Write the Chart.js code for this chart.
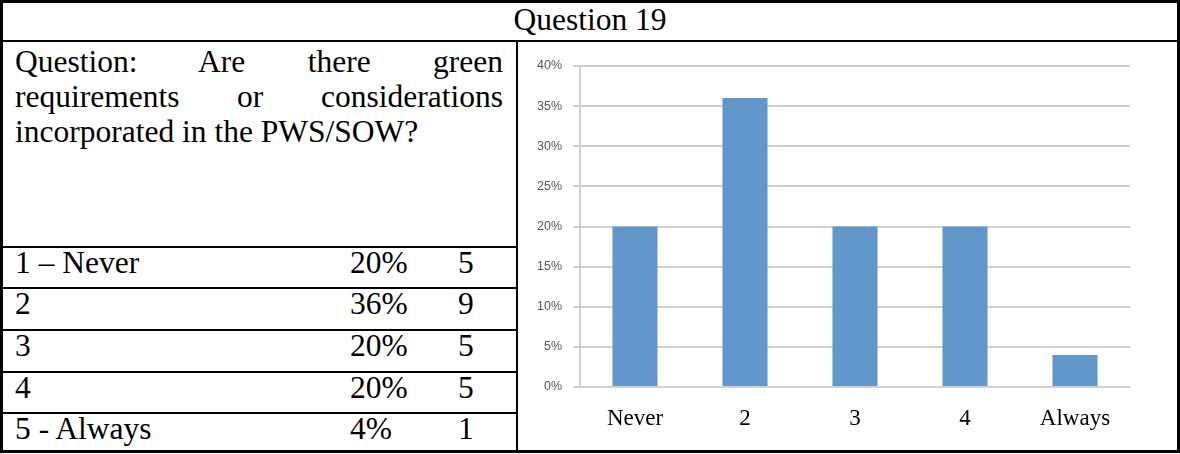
<!DOCTYPE html>
<html>
<head>
<meta charset="utf-8">
<script src="https://cdn.jsdelivr.net/npm/chart.js@4"></script>
<style>
  html, body { margin: 0; padding: 0; background: #fff; }
  body { width: 1180px; height: 454px; position: relative; overflow: hidden;
         font-family: "Liberation Serif", "Times New Roman", serif; font-size: 31.5px; color: #000; }
  .caixa { position: absolute; left: 0; top: 0; width: 1180px; height: 453px;
           border: 3px solid #000; box-sizing: border-box; }
  .linha-h { position: absolute; height: 2px; background: #000; }
  .linha-v { position: absolute; width: 2px; background: #000; }
  .titulo { position: absolute; left: 0; top: 2px; width: 1180px; text-align: center; line-height: 35px; }
  .pergunta { position: absolute; left: 15px; top: 44px; width: 488px; }
  .pergunta div { line-height: 35px; white-space: nowrap; }
  .pergunta .just { text-align: justify; text-align-last: justify; white-space: normal; }
  .linha { position: absolute; left: 0; width: 516px; line-height: 29px; }
  .linha span { position: absolute; top: 0; white-space: nowrap; }
  #area-grafico { position: absolute; left: 518px; top: 42px; width: 659px; height: 407px; }
</style>
</head>
<body>
<div class="caixa"></div>
<div class="titulo" id="titulo"></div>
<div class="linha-h" style="left:0; top:40px; width:1180px;"></div>
<div class="linha-v" style="left:516px; top:40px; height:412px;"></div>
<div class="pergunta" id="pergunta"></div>
<div id="tabela"></div>
<div id="area-grafico"><canvas id="meuGrafico"></canvas></div>

<script>
// ----------------------------- dados -----------------------------
const titulo = "Question 19";
const linhasPergunta = ["Question: Are there green", "requirements or considerations", "incorporated in the PWS/SOW?"];
const rotulosTabela = ["1 \u2013 Never", "2", "3", "4", "5 - Always"];
const categorias = ["Never", "2", "3", "4", "Always"];
const percentuais = [20, 36, 20, 20, 4];
const respostas = [5, 9, 5, 5, 1];
const ticksY = [0, 5, 10, 15, 20, 25, 30, 35, 40];

// ----------------------------- tabela -----------------------------
document.getElementById('titulo').innerText = titulo;

let htmlPergunta = "";
linhasPergunta.forEach((txt, i) => {
    let cls = i < linhasPergunta.length - 1 ? "just" : "";
    htmlPergunta += `<div class="${cls}">${txt}</div>`;
});
document.getElementById('pergunta').innerHTML = htmlPergunta;

const topoLinhas = [246, 287, 329, 371, 412]; // linhas horizontais da tabela
let htmlTabela = "";
for (let i = 0; i < rotulosTabela.length; i++) {
    htmlTabela += `<div class="linha-h" style="left:0; top:${topoLinhas[i]}px; width:517px;"></div>`;
    htmlTabela += `
        <div class="linha" style="top:${topoLinhas[i] + 2}px;">
            <span style="left:15px;">${rotulosTabela[i]}</span>
            <span style="left:350px;">${percentuais[i]}%</span>
            <span style="left:458px;">${respostas[i]}</span>
        </div>`;
}
document.getElementById('tabela').innerHTML = htmlTabela;

// ----------------------------- grafico -----------------------------
const ctx = document.getElementById('meuGrafico').getContext('2d');

new Chart(ctx, {
    type: 'bar',
    data: {
        labels: categorias,
        datasets: [{
            data: percentuais,
            backgroundColor: '#6297cc',
            borderWidth: 0,
            barPercentage: 0.41,
            categoryPercentage: 1.0
        }]
    },
    options: {
        responsive: true,
        maintainAspectRatio: false,
        animation: false,
        layout: { padding: { top: 24, right: 47, left: 0, bottom: 0 } },
        plugins: { legend: { display: false }, tooltip: { enabled: false } },
        scales: {
            x: {
                grid: { display: false, drawTicks: false },
                border: { display: false },
                ticks: {
                    color: '#000',
                    padding: 18,
                    maxRotation: 0,
                    font: { family: '"Liberation Serif", "Times New Roman", serif', size: 23 }
                },
                afterFit: (scale) => { scale.height = 62; }
            },
            y: {
                min: 0,
                max: 40,
                afterBuildTicks: (scale) => { scale.ticks = ticksY.map(v => ({ value: v })); },
                afterFit: (scale) => { scale.width = 62; },
                grid: { color: '#d0d0d0', lineWidth: 2, tickLength: 7, drawTicks: true },
                border: { display: true, color: '#d0d0d0', width: 2 },
                ticks: {
                    color: '#555555',
                    padding: 11,
                    font: { family: '"Liberation Sans", Arial, sans-serif', size: 12.5 },
                    callback: (v) => v + '%'
                }
            }
        }
    }
});
</script>
</body>
</html>
